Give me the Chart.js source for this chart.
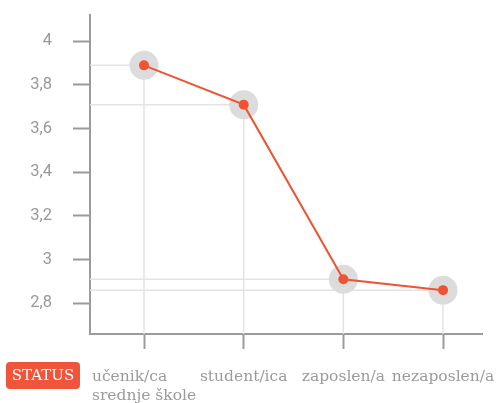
<!DOCTYPE html>
<html><head><meta charset="utf-8">
<script src="https://cdn.jsdelivr.net/npm/chart.js@4"></script>
<style>html,body{margin:0;padding:0;background:#fff}#wrap{width:502px;height:403px;position:relative}</style>
</head><body><div id="wrap"><canvas id="c" width="502" height="403"></canvas></div>
<script>
const categories = [["učenik/ca", "srednje škole"], ["student/ica"], ["zaposlen/a"], ["nezaposlen/a"]];
const values = [3.89, 3.71, 2.91, 2.86];
const yTicks = [2.8, 3.0, 3.2, 3.4, 3.6, 3.8, 4.0];
const axisTitle = "STATUS";

const points = values.map((v, i) => ({x: i, y: v}));
const GRAY = '#9b9b9b';
const RED = '#ef5332';

const guides = {
  id: 'guides',
  beforeDatasetsDraw(chart) {
    const {ctx, scales: {x, y}, chartArea} = chart;
    ctx.save();
    ctx.strokeStyle = '#e4e4e4';
    ctx.lineWidth = 1.5;
    points.forEach(p => {
      const px = x.getPixelForValue(p.x), py = y.getPixelForValue(p.y);
      ctx.beginPath();
      ctx.moveTo(chartArea.left, py); ctx.lineTo(px, py);
      ctx.moveTo(px, py); ctx.lineTo(px, chartArea.bottom);
      ctx.stroke();
    });
    ctx.restore();
  },
  afterDraw(chart) {
    const {ctx, scales: {x}} = chart;
    ctx.save();
    ctx.font = '15.5px "DejaVu Serif"';
    ctx.fillStyle = GRAY;
    ctx.textBaseline = 'alphabetic';
    categories.forEach((lines, i) => {
      const cx = x.getPixelForValue(i);
      const w = Math.max(...lines.map(l => ctx.measureText(l).width));
      ctx.textAlign = 'left';
      lines.forEach((l, k) => ctx.fillText(l, cx - w / 2, 381 + k * 19));
    });
    // badge
    const bx = 6, by = 362, bw = 74, bh = 27, r = 4;
    ctx.fillStyle = '#f0543a';
    ctx.beginPath();
    ctx.roundRect(bx, by, bw, bh, r);
    ctx.fill();
    ctx.fillStyle = '#fff';
    ctx.font = '15px "DejaVu Serif"';
    ctx.textAlign = 'center';
    ctx.textBaseline = 'middle';
    ctx.fillText(axisTitle, bx + bw / 2, by + bh / 2 + 1);
    ctx.restore();
  }
};

new Chart(document.getElementById('c'), {
  type: 'line',
  data: {
    datasets: [
      {data: points, borderColor: RED, borderWidth: 2, pointRadius: 5, pointBackgroundColor: RED,
       pointBorderWidth: 0, pointHoverRadius: 5, order: 1},
      {data: points, showLine: false, pointRadius: 14.5, pointBackgroundColor: '#dcdcdd',
       pointBorderWidth: 0, order: 2}
    ]
  },
  options: {
    responsive: false, animation: false,
    layout: {padding: {top: 12, right: 20, left: 0, bottom: 0}},
    plugins: {legend: {display: false}, tooltip: {enabled: false}},
    scales: {
      x: {
        type: 'linear', min: -0.542, max: 3.391,
        afterBuildTicks(s) { s.ticks = categories.map((c, i) => ({value: i})); },
        afterFit(s) { s.height = 69; s.paddingLeft = 0; s.paddingRight = 0; s.paddingTop = 0; s.paddingBottom = 0; },
        ticks: {display: false},
        grid: {drawOnChartArea: false, drawTicks: true, tickLength: 15, tickColor: GRAY, tickWidth: 2},
        border: {display: true, color: GRAY, width: 2}
      },
      y: {
        min: 2.659, max: 4.123,
        afterBuildTicks(s) { s.ticks = yTicks.map(v => ({value: v})); },
        afterFit(s) { s.width = 90; s.paddingTop = 0; s.paddingBottom = 0; s.paddingLeft = 0; s.paddingRight = 0; },
        ticks: {color: '#999', padding: 21, font: {family: 'Roboto', size: 16.5, weight: 400},
          callback: v => String(+v.toFixed(1)).replace('.', ',')},
        grid: {drawOnChartArea: false, drawTicks: true, tickLength: 17, tickColor: GRAY, tickWidth: 2},
        border: {display: true, color: GRAY, width: 2}
      }
    }
  },
  plugins: [guides]
});
</script></body></html>
